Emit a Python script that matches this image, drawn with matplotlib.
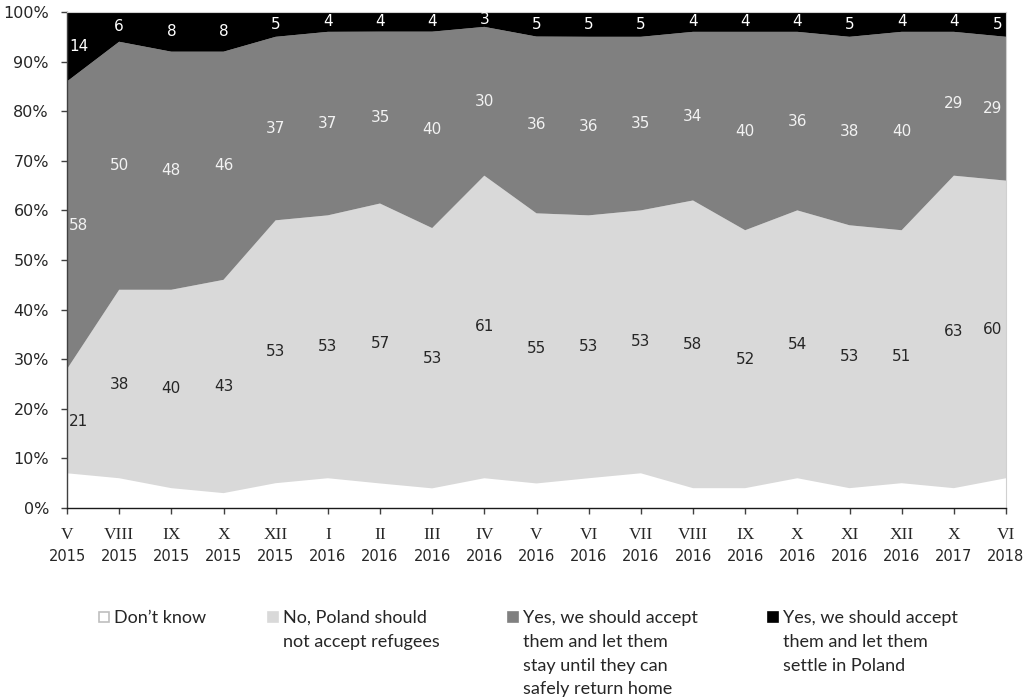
import matplotlib
matplotlib.use("Agg")
import matplotlib.pyplot as plt
from matplotlib.patches import Rectangle
from matplotlib.transforms import blended_transform_factory
import numpy as np

# Survey waves (month in Roman numerals, year)
months = ["V", "VIII", "IX", "X", "XII", "I", "II", "III", "IV", "V",
          "VI", "VII", "VIII", "IX", "X", "XI", "XII", "X", "VI"]
years = ["2015", "2015", "2015", "2015", "2015", "2016", "2016", "2016", "2016",
         "2016", "2016", "2016", "2016", "2016", "2016", "2016", "2016", "2017", "2018"]

# Answers in percent
dont_know = [7, 6, 4, 3, 5, 6, 5, 4, 6, 5, 6, 7, 4, 4, 6, 4, 5, 4, 6]
no_accept = [21, 38, 40, 43, 53, 53, 57, 53, 61, 55, 53, 53, 58, 52, 54, 53, 51, 63, 60]
yes_temporary = [58, 50, 48, 46, 37, 37, 35, 40, 30, 36, 36, 35, 34, 40, 36, 38, 40, 29, 29]
yes_settle = [14, 6, 8, 8, 5, 4, 4, 4, 3, 5, 5, 5, 4, 4, 4, 5, 4, 4, 5]

series_labels = [
    "Don\u2019t know",
    "No, Poland should\nnot accept refugees",
    "Yes, we should accept\nthem and let them\nstay until they can\nsafely return home",
    "Yes, we should accept\nthem and let them\nsettle in Poland",
]
fill_colors = ["#ffffff", "#d9d9d9", "#808080", "#000000"]
value_colors = [None, "#262626", "#f2f2f2", "#ffffff"]

values = np.array([dont_know, no_accept, yes_temporary, yes_settle], dtype=float)
shares = values / values.sum(axis=0) * 100.0
tops = np.cumsum(shares, axis=0)
bottoms = tops - shares
x = np.arange(len(months))

W, H = 1028, 700
fig = plt.figure(figsize=(W / 100, H / 100), dpi=100)
ax = fig.add_axes([67 / W, 1 - 508 / H, (1006 - 67) / W, (508 - 12) / H])

ax.stackplot(x, shares, colors=fill_colors, linewidth=0)

# value labels in the middle of each band
for k in range(1, 4):
    for i in x:
        yc = bottoms[k, i] + shares[k, i] / 2
        if i == 0:
            ha, dx = "left", 2
        elif i == len(x) - 1:
            ha, dx = "right", -4
        else:
            ha, dx = "center", 0
        ax.annotate(f"{int(values[k, i])}", (i, yc), xytext=(dx, 0),
                    textcoords="offset pixels", ha=ha, va="center",
                    fontsize=11, color=value_colors[k], family="DejaVu Sans")

ax.set_xlim(0, len(x) - 1)
ax.set_ylim(0, 100)
ax.set_yticks(np.arange(0, 101, 10))
ax.set_yticklabels([f"{v}%" for v in range(0, 101, 10)], family="DejaVu Sans")
ax.set_xticks(x)
ax.set_xticklabels([])
ax.tick_params(axis="y", direction="out", length=4, width=1, color="#404040",
               labelsize=11.5, labelcolor="#262626", pad=9)
ax.tick_params(axis="x", direction="out", length=4, width=1, color="#404040")

for side in ("top", "right"):
    ax.spines[side].set_color("#d0d0d0")
    ax.spines[side].set_linewidth(0.8)
ax.spines["left"].set_color("#404040")
ax.spines["left"].set_linewidth(1.0)
ax.spines["bottom"].set_color("#1a1a1a")
ax.spines["bottom"].set_linewidth(1.0)

# two-line category labels: Roman month over year
trans = blended_transform_factory(ax.transData, ax.transAxes)
for i in x:
    ax.text(i, -27 / 496, months[i], transform=trans, ha="center", va="center",
            fontsize=12.5, family="Liberation Serif", color="#262626")
    ax.text(i, -48.5 / 496, years[i], transform=trans, ha="center", va="center",
            fontsize=10.5, family="DejaVu Sans", color="#262626")

# legend
legend_x = [99, 268, 508, 768]
legend_mid = 617
for k in range(4):
    xs = legend_x[k]
    edge = "#bfbfbf" if k == 0 else fill_colors[k]
    fig.patches.append(Rectangle((xs / W, 1 - (legend_mid + 5) / H), 10 / W, 10 / H,
                                 transform=fig.transFigure, facecolor=fill_colors[k],
                                 edgecolor=edge, linewidth=1.2))
    fig.text((xs + 15) / W, 1 - (legend_mid - 7) / H, series_labels[k],
             ha="left", va="top", fontsize=13, family="Lato", color="#262626",
             linespacing=1.6)

fig.savefig("out.png", dpi=100, facecolor="white")
